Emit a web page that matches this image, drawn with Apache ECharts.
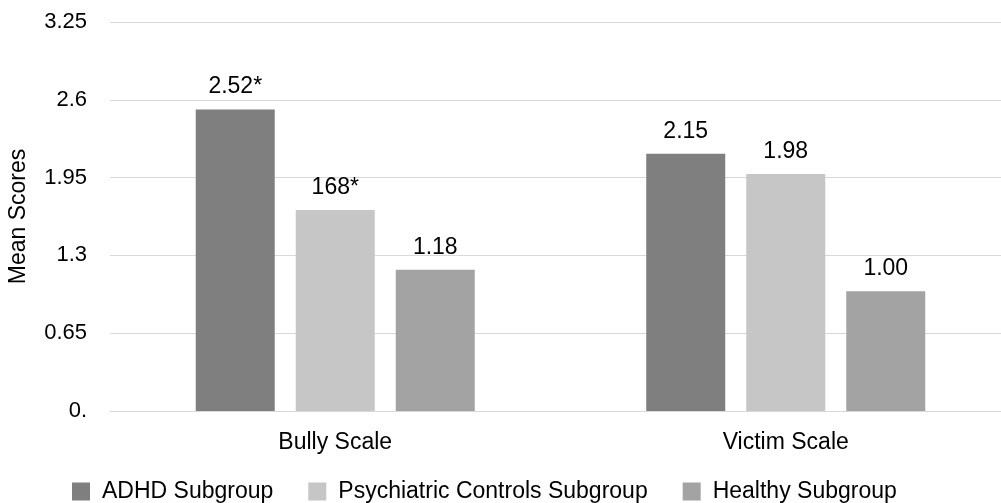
<!DOCTYPE html>
<html>
<head>
<meta charset="utf-8">
<script src="https://cdn.jsdelivr.net/npm/echarts@6/dist/echarts.min.js"></script>
<style>
html,body{margin:0;padding:0;background:#fff;}
#chart{width:1001px;height:503px;}
</style>
</head>
<body>
<div id="chart"></div>
<script>
const categories = ["Bully Scale", "Victim Scale"];
const seriesNames = ["ADHD Subgroup", "Psychiatric Controls Subgroup", "Healthy Subgroup"];
const adhdValues = [2.52, 2.15];
const psychValues = [1.68, 1.98];
const healthyValues = [1.18, 1.00];
const adhdLabels = ["2.52*", "2.15"];
const psychLabels = ["168*", "1.98"];
const healthyLabels = ["1.18", "1.00"];
const yTickLabels = ["0.", "0.65", "1.3", "1.95", "2.6", "3.25"];
const colors = ["#7f7f7f", "#c6c6c6", "#a3a3a3"];

const FONT = "'Liberation Sans', Arial, sans-serif";
const FS = 23;
const chart = echarts.init(document.getElementById('chart'));

function mkSeries(name, values, labels, color) {
  return {
    name: name,
    type: 'bar',
    data: values,
    barWidth: 79,
    barGap: '26.6%',
    itemStyle: { color: color },
    label: {
      show: true,
      position: 'top',
      distance: 11,
      color: '#000',
      fontFamily: FONT,
      fontSize: FS,
      formatter: p => labels[p.dataIndex]
    }
  };
}

chart.setOption({
  animation: false,
  backgroundColor: '#fff',
  textStyle: { fontFamily: FONT },
  grid: { left: 110, right: -10, top: 22, bottom: 92, containLabel: false, outerBoundsMode: 'none' },
  legend: {
    top: 475,
    left: 67,
    itemWidth: 18,
    itemHeight: 18,
    itemGap: 35,
    icon: 'rect',
    textStyle: { color: '#000', fontSize: FS, fontFamily: FONT, padding: [0, 0, 0, 7] },
    data: seriesNames
  },
  xAxis: {
    type: 'category',
    data: categories,
    axisLine: { show: true, lineStyle: { color: '#d9d9d9', width: 1 } },
    axisTick: { show: false },
    axisLabel: { color: '#000', fontSize: FS, fontFamily: FONT, margin: 20 }
  },
  yAxis: {
    type: 'value',
    min: 0,
    max: 3.25,
    interval: 0.65,
    name: 'Mean Scores',
    nameLocation: 'middle',
    nameGap: 80,
    nameRotate: 90,
    nameMoveOverlap: false,
    nameTextStyle: { color: '#000', fontSize: FS, fontFamily: FONT },
    axisLine: { show: false },
    axisTick: { show: false },
    splitLine: { lineStyle: { color: '#d9d9d9', width: 1 } },
    axisLabel: {
      color: '#000', fontSize: 22, fontFamily: FONT, margin: 23,
      formatter: (v, i) => yTickLabels[i]
    }
  },
  series: [
    mkSeries(seriesNames[0], adhdValues, adhdLabels, colors[0]),
    mkSeries(seriesNames[1], psychValues, psychLabels, colors[1]),
    mkSeries(seriesNames[2], healthyValues, healthyLabels, colors[2])
  ]
});
</script>
</body>
</html>
